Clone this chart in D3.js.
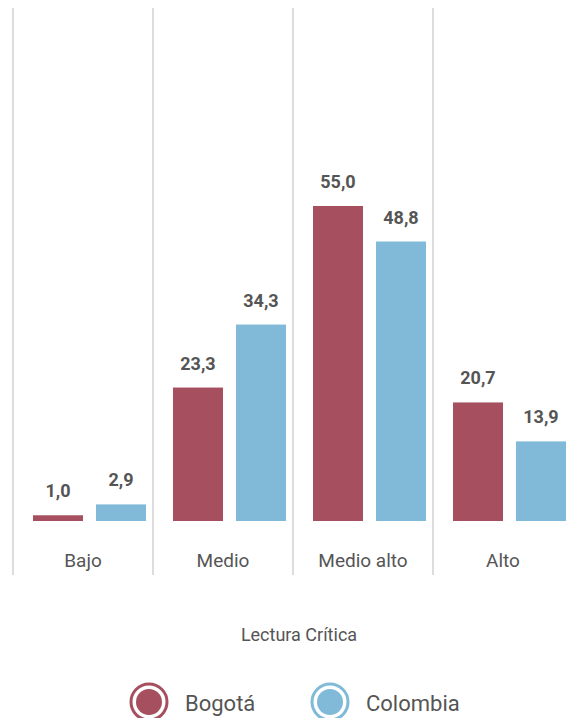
<!DOCTYPE html>
<html>
<head>
<meta charset="utf-8">
<script src="https://cdn.jsdelivr.net/npm/d3@7"></script>
<style>
  body { margin: 0; background: #fff; }
  text { font-family: Roboto, "DejaVu Sans", sans-serif; fill: #555; }
</style>
</head>
<body>
<script>
var categories = ["Bajo", "Medio", "Medio alto", "Alto"];
var series = ["Bogotá", "Colombia"];
var bogota = [1.0, 23.3, 55.0, 20.7];
var colombia = [2.9, 34.3, 48.8, 13.9];
var axisTitle = "Lectura Crítica";

var colors = ["#a64f5e", "#80bad8"];

var width = 567, height = 718;
var baseline = 521;

var svg = d3.select("body").append("svg")
	.attr("width", width)
	.attr("height", height);

var x = d3.scaleBand()
	.domain(categories)
	.range([13, 573]);

var xSub = d3.scaleBand()
	.domain(series)
	.range([20, 133])
	.paddingInner(0.206);

var y = d3.scaleLinear()
	.domain([0, 55])
	.range([baseline, 206]);

var fmt = function(v) { return d3.format(".1f")(v).replace(".", ","); };

// vertical separators
svg.selectAll(".sep")
	.data(categories)
	.enter().append("line")
	.attr("x1", function(d) { return x(d); })
	.attr("x2", function(d) { return x(d); })
	.attr("y1", 8)
	.attr("y2", 575)
	.attr("stroke", "#dddddd")
	.attr("stroke-width", 2);

var rows = [];
categories.forEach(function(c, i) {
	rows.push({cat: c, s: series[0], v: bogota[i], col: colors[0]});
	rows.push({cat: c, s: series[1], v: colombia[i], col: colors[1]});
});

svg.selectAll(".bar")
	.data(rows)
	.enter().append("rect")
	.attr("class", "bar")
	.attr("x", function(d) { return x(d.cat) + xSub(d.s); })
	.attr("y", function(d) { return y(d.v); })
	.attr("width", xSub.bandwidth())
	.attr("height", function(d) { return baseline - y(d.v); })
	.attr("fill", function(d) { return d.col; });

svg.selectAll(".val")
	.data(rows)
	.enter().append("text")
	.attr("x", function(d) { return x(d.cat) + xSub(d.s) + xSub.bandwidth() / 2; })
	.attr("y", function(d) { return y(d.v) - 18; })
	.attr("text-anchor", "middle")
	.style("font-size", "18px")
	.style("font-weight", "bold")
	.text(function(d) { return fmt(d.v); });

// category labels
svg.selectAll(".cat")
	.data(categories)
	.enter().append("text")
	.attr("x", function(d) { return x(d) + 70; })
	.attr("y", 567)
	.attr("text-anchor", "middle")
	.style("font-size", "19px")
	.text(function(d) { return d; });

svg.append("text")
	.attr("x", 299)
	.attr("y", 641)
	.attr("text-anchor", "middle")
	.style("font-size", "18px")
	.text(axisTitle);

// legend
var legX = [149, 330];
var legend = svg.selectAll(".legend")
	.data(series)
	.enter().append("g")
	.attr("transform", function(d, i) { return "translate(" + legX[i] + ",702)"; });

legend.append("circle")
	.attr("r", 18)
	.attr("fill", "none")
	.attr("stroke", function(d, i) { return colors[i]; })
	.attr("stroke-width", 3);

legend.append("circle")
	.attr("r", 13)
	.attr("fill", function(d, i) { return colors[i]; });

legend.append("text")
	.attr("x", 36)
	.attr("y", 9)
	.style("font-size", "22px")
	.text(function(d) { return d; });
</script>
</body>
</html>
